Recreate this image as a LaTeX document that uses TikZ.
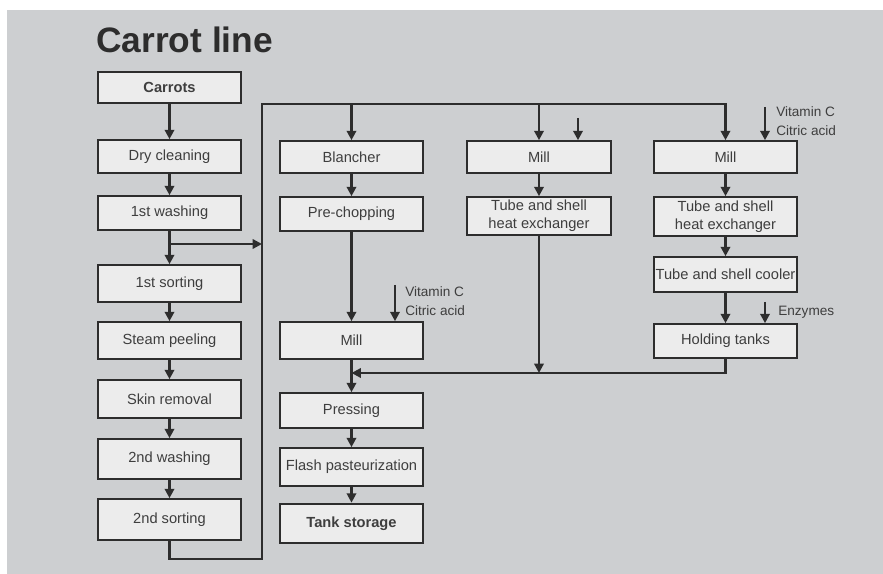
\documentclass[tikz,border=0pt]{standalone}
\usepackage{fontspec}
\setmainfont{Liberation Sans}
\usetikzlibrary{arrows.meta}
\definecolor{bg}{RGB}{205,207,209}
\definecolor{boxfill}{RGB}{236,236,236}
\definecolor{ink}{RGB}{45,45,45}
\definecolor{txt}{RGB}{62,62,62}
\begin{document}
\begin{tikzpicture}[x=0.75pt,y=-0.75pt,
  proc/.style={draw=ink, line width=1.2pt, fill=boxfill, inner sep=0pt,
    text=txt, align=center, font=\fontsize{11pt}{13.5pt}\selectfont},
  procw/.style={proc, minimum width={143*0.75pt}},
  endbox/.style={procw, line width=2pt, font=\fontsize{11pt}{13.5pt}\selectfont\bfseries},
  arr/.style={draw=ink, line width=1.7pt, -{Triangle[width=7pt,length=7pt]}},
  lab/.style={anchor=west, inner sep=0pt, text=txt, font=\fontsize{10.2pt}{12pt}\selectfont}
]
\useasboundingbox (0,0) rectangle (883,574);
\fill[white] (0,0) rectangle (883,574);
\fill[bg] (7,10) rectangle (883,574);

\node[anchor=base west, inner sep=0pt, text=ink, font=\fontsize{26.5pt}{30pt}\selectfont\bfseries] (title) at (96,53) {Carrot line};

% left column
\node[endbox, minimum height={31*0.75pt}] (carrots) at (169.5,87.5) {Carrots};
\node[procw, minimum height={33*0.75pt}] (dry) at (169.5,156.5) {Dry cleaning};
\node[procw, minimum height={34*0.75pt}] (wash1) at (169.5,213) {1st washing};
\node[procw, minimum height={37*0.75pt}] (sort1) at (169.5,283.5) {1st sorting};
\node[procw, minimum height={37*0.75pt}] (steam) at (169.5,340.5) {Steam peeling};
\node[procw, minimum height={38*0.75pt}] (skin) at (169.5,399) {Skin removal};
\node[procw, minimum height={40*0.75pt}] (wash2) at (169.5,459) {2nd washing};
\node[procw, minimum height={41*0.75pt}] (sort2) at (169.5,519.5) {2nd sorting};

% column 2
\node[procw, minimum height={32*0.75pt}] (blancher) at (351.5,157) {Blancher};
\node[procw, minimum height={34*0.75pt}] (prechop) at (351.5,214) {Pre-chopping};
\node[procw, minimum height={37*0.75pt}] (mill2) at (351.5,340.5) {Mill};
\node[procw, minimum height={35*0.75pt}] (pressing) at (351.5,410.5) {Pressing};
\node[procw, minimum height={38*0.75pt}] (flash) at (351.5,467) {Flash pasteurization};
\node[endbox, minimum height={39*0.75pt}] (tank) at (351.5,523.5) {Tank storage};

% column 3
\node[proc, minimum width={144*0.75pt}, minimum height={32*0.75pt}] (mill3) at (539,157) {Mill};
\node[proc, minimum width={144*0.75pt}, minimum height={38*0.75pt}] (tube3) at (539,216) {Tube and shell\\heat exchanger};

% column 4
\node[procw, minimum height={32*0.75pt}] (mill4) at (725.5,157) {Mill};
\node[procw, minimum height={39*0.75pt}] (tube4) at (725.5,216.5) {Tube and shell\\heat exchanger};
\node[procw, minimum height={35*0.75pt}] (cooler) at (725.5,274.5) {Tube and shell cooler};
\node[procw, minimum height={34*0.75pt}] (holding) at (725.5,341) {Holding tanks};

% labels
\node[lab] (vc2) at (405,292) {Vitamin C};
\node[lab] (ca2) at (405,311) {Citric acid};
\node[lab] (vc4) at (776,112) {Vitamin C};
\node[lab] (ca4) at (776,131) {Citric acid};
\node[lab] (enz) at (778,312) {Enzymes};

% coordinates
\coordinate (b1) at (169.5,244);
\coordinate (b1e) at (262,244);
\coordinate (c2) at (262,559);
\coordinate (c3) at (262,104);
\coordinate (t2) at (351.5,104);
\coordinate (t3) at (539,104);
\coordinate (e3) at (578,118);
\coordinate (v4) at (765,107);
\coordinate (v2) at (395,285);
\coordinate (en) at (765,302);
\coordinate (m2) at (351.5,373);

% left column arrows
\draw[arr] (carrots.south) -- (dry.north);
\draw[arr] (dry.south) -- (wash1.north);
\draw[arr] (wash1.south) -- (sort1.north);
\draw[arr] (b1) -- (b1e);
\draw[arr] (sort1.south) -- (steam.north);
\draw[arr] (steam.south) -- (skin.north);
\draw[arr] (skin.south) -- (wash2.north);
\draw[arr] (wash2.south) -- (sort2.north);

% loop to top
\draw[arr] (sort2.south) |- (c2) -- (c3) -| (mill4.north);
\draw[arr] (t2) -- (blancher.north);
\draw[arr] (t3) -- (mill3.north);
\draw[arr] (e3) -- (e3 |- mill3.north);
\draw[arr] (v4) -- (v4 |- mill4.north);

% column 2
\draw[arr] (blancher.south) -- (prechop.north);
\draw[arr] (prechop.south) -- (mill2.north);
\draw[arr] (v2) -- (v2 |- mill2.north);
\draw[arr] (mill2.south) -- (pressing.north);
\draw[arr] (pressing.south) -- (flash.north);
\draw[arr] (flash.south) -- (tank.north);

% column 3
\draw[arr] (mill3.south) -- (tube3.north);
\draw[arr] (tube3.south) -- (tube3.south |- m2);

% column 4
\draw[arr] (mill4.south) -- (tube4.north);
\draw[arr] (tube4.south) -- (cooler.north);
\draw[arr] (cooler.south) -- (holding.north);
\draw[arr] (en) -- (en |- holding.north);
\draw[arr] (holding.south) |- (m2);
\end{tikzpicture}
\end{document}
